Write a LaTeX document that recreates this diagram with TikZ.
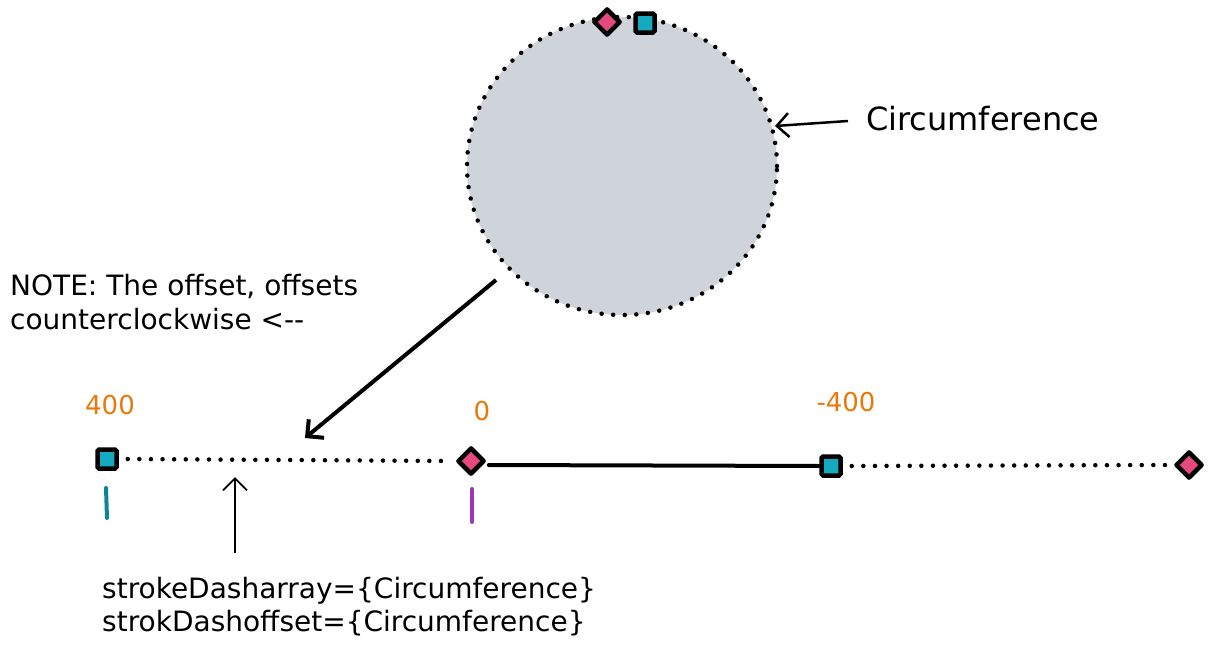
\documentclass[tikz,border=0pt]{standalone}
\usepackage{fontspec}
\setmainfont{DejaVu Sans}
\usetikzlibrary{arrows.meta,shapes.geometric}
\definecolor{circfill}{HTML}{CED4DA}
\definecolor{sqfill}{HTML}{15AABF}
\definecolor{dmfill}{HTML}{E64980}
\definecolor{lblorange}{HTML}{E8790C}
\definecolor{tickteal}{HTML}{0C8599}
\definecolor{tickpurple}{HTML}{9C36B5}
\tikzset{
  sqmark/.style={draw=black, fill=sqfill, line width=4.5pt, rounded corners=1.5pt, minimum size=19pt, inner sep=0pt, shape=rectangle},
  dmmark/.style={draw=black, fill=dmfill, line width=4.5pt, line join=round, shape=diamond, minimum size=27pt, inner sep=0pt},
  dotline/.style={line width=4.5pt, line cap=round, dash pattern=on 0pt off 11.6pt},
  solidline/.style={line width=4pt, line cap=round},
  barb/.style={-{Straight Barb[length=12pt,width=24pt]}},
  hand/.style={font=\fontsize{28}{35}\selectfont, inner sep=0pt, anchor=base west},
  bighand/.style={font=\fontsize{32}{38}\selectfont, inner sep=0pt, anchor=base west},
  numlbl/.style={font=\fontsize{26}{28}\selectfont, text=lblorange, inner sep=0pt, anchor=base},
}
\begin{document}
\begin{tikzpicture}[x=1pt,y=-1pt]
\useasboundingbox (0,0) rectangle (1211,653);
% circle
\node[ellipse, fill=circfill, minimum width=310pt, minimum height=298pt, inner sep=0pt] (circ) at (622,166) {};
\draw[dotline] (circ.center) ellipse [x radius=155pt, y radius=149pt];
\node[dmmark] (cdm) at (607,22) {};
\node[sqmark] (csq) at (645,23) {};
% circumference label
\node[bighand] (circlbl) at (866,130) {Circumference};
\coordinate (circedge) at (775,126);
\draw[barb, line width=2.5pt] (848,121) -- (circedge);
% note
\node[hand] (note1) at (10,295) {NOTE: The offset, offsets};
\node[hand] (note2) at (10,329) {counterclockwise <-{}-};
% long arrow
\coordinate (la1) at (496,280);
\coordinate (la2) at (305,438);
\draw[barb, line width=4pt] (la1) -- (la2);
% markers on line
\node[sqmark] (sq1) at (107,459) {};
\node[dmmark] (dm1) at (471,461) {};
\node[sqmark] (sq2) at (831,466) {};
\node[dmmark] (dm2) at (1189,465) {};
\draw[dotline] ([xshift=9pt]sq1.east) -- ([xshift=-7pt]dm1.west);
\draw[solidline] ([xshift=2pt]dm1.east |- 0,465) -- (sq2.west);
\draw[dotline] ([xshift=9pt]sq2.east) -- ([xshift=-8pt]dm2.west);
% numbers
\node[numlbl] (n400) at (110,414) {400};
\node[numlbl] (n0) at (482,420) {0};
\node[numlbl] (nm400) at (846,411) {-400};
% ticks
\coordinate (t1a) at (106,488); \coordinate (t1b) at (107,518);
\draw[tickteal, line width=4pt, line cap=round] (t1a) -- (t1b);
\coordinate (t2a) at (472,489); \coordinate (t2b) at (472,522);
\draw[tickpurple, line width=4pt, line cap=round] (t2a) -- (t2b);
% bottom text and up arrow
\node[hand] (code1) at (102,598) {strokeDasharray=\{Circumference\}};
\node[hand] (code2) at (102,631) {strokDashoffset=\{Circumference\}};
\coordinate (ua1) at (235,553);
\coordinate (ua2) at (235,477);
\draw[barb, line width=1.8pt] (ua1) -- (ua2);
\end{tikzpicture}
\end{document}
